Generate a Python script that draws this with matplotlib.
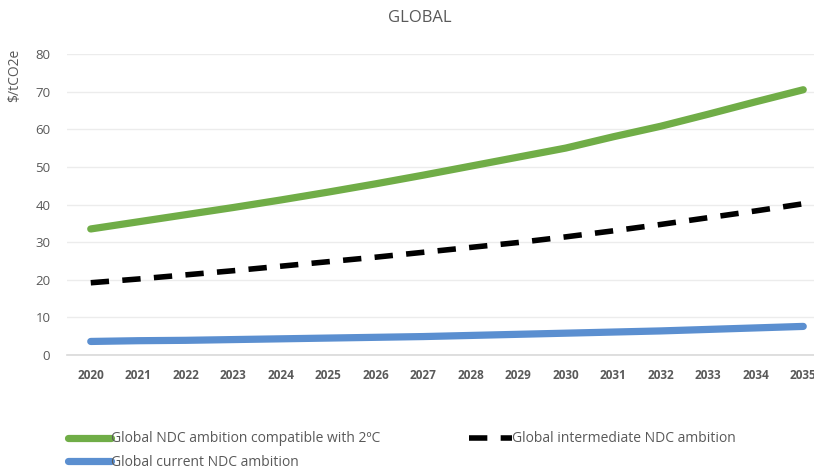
import matplotlib
matplotlib.use("Agg")
import matplotlib.pyplot as plt

plt.rcParams['font.family'] = ['Open Sans', 'DejaVu Sans']

years = list(range(2020, 2036))
ambition_2c = [33.5, 35.4, 37.3, 39.2, 41.2, 43.3, 45.5, 47.8, 50.2, 52.6, 55.0, 58.0, 60.8, 64.0, 67.3, 70.5]
intermediate = [19.2, 20.2, 21.3, 22.4, 23.6, 24.8, 26.0, 27.3, 28.6, 29.9, 31.4, 33.0, 34.7, 36.5, 38.3, 40.2]
current = [3.6, 3.8, 3.9, 4.1, 4.3, 4.5, 4.7, 4.9, 5.2, 5.5, 5.8, 6.1, 6.4, 6.8, 7.2, 7.6]
labels = ["Global NDC ambition compatible with 2ºC",
          "Global current NDC ambition",
          "Global intermediate NDC ambition"]

grey = "#595959"

fig = plt.figure(figsize=(8.14, 4.67), dpi=100)
ax = fig.add_axes([67/814, 1 - 355/467, (827 - 67)/814, (355 - 54)/467])

l1, = ax.plot(years, ambition_2c, color="#70ad47", lw=5.2, solid_capstyle="round")
l3, = ax.plot(years, intermediate, color="black", lw=4, dashes=(3.3, 2.4))
l2, = ax.plot(years, current, color="#5b8fd0", lw=5.2, solid_capstyle="round")

ax.set_xlim(2019.5, 2035.5)
ax.set_ylim(0, 80)
ax.set_xticks(years)
ax.set_yticks(range(0, 81, 10))
ax.tick_params(axis="x", length=0, pad=10, labelsize=8.5, colors=grey)
ax.tick_params(axis="y", length=0, pad=12, labelsize=9.5, colors=grey)
for t in ax.get_xticklabels():
    t.set_fontweight("bold")

ax.grid(axis="y", color="#ececec", lw=1)
ax.set_axisbelow(True)
for s in ["top", "right", "left"]:
    ax.spines[s].set_visible(False)
ax.spines["bottom"].set_color("#d9d9d9")
ax.spines["bottom"].set_linewidth(1.2)

fig.text(15/814, 1 - 75/467, "$/tCO2e", rotation=90, ha="center", va="center",
         fontsize=10, color=grey)
fig.text(420/814, 1 - 18/467, "GLOBAL", ha="center", va="center", fontsize=12, color=grey)

fig.legend([l1, l2, l3], labels, ncol=2, loc="upper left",
           bbox_to_anchor=(55/814, 1 - 419/467), frameon=False,
           fontsize=10, labelcolor=grey, handlelength=3.1, handletextpad=0.0,
           columnspacing=6.4, labelspacing=0.6)

fig.savefig("out.png", dpi=100)
